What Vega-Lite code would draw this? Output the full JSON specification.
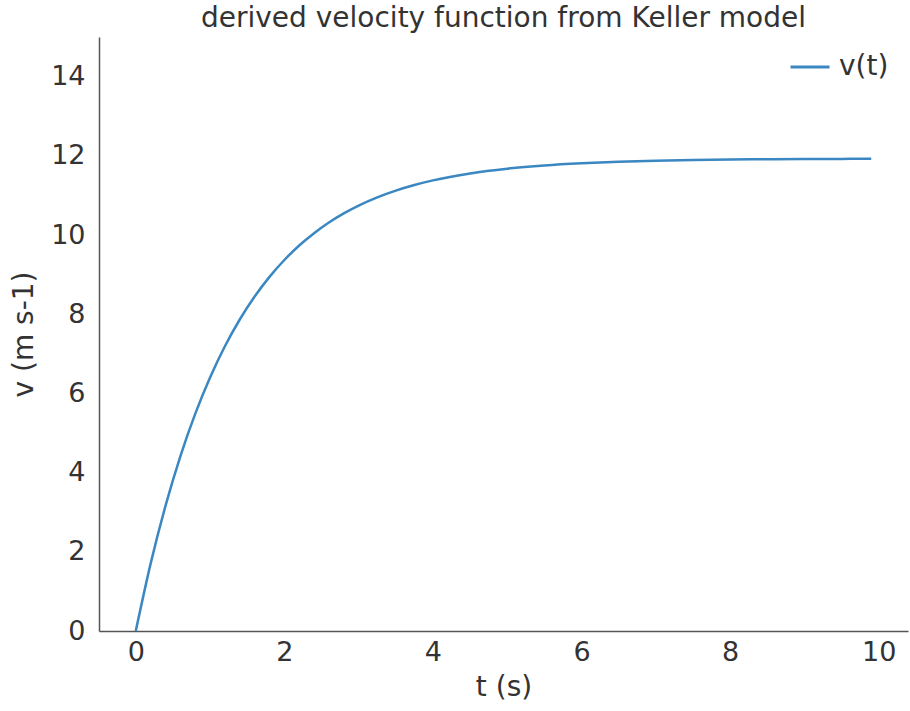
{
  "$schema": "https://vega.github.io/schema/vega-lite/v6.json",
  "autosize": {"type": "none"},
  "padding": {"left": 99, "top": 37, "right": 2, "bottom": 80},
  "width": 809,
  "height": 594,
  "title": {"text": "derived velocity function from Keller model", "font": "DejaVu Sans", "fontSize": 28, "fontWeight": "normal", "color": "#333333", "offset": 4},
  "config": {
    "view": {"stroke": null},
    "font": "DejaVu Sans",
    "axis": {"domainColor": "#555555", "domainWidth": 1.5, "ticks": false, "grid": false, "labelFont": "DejaVu Sans", "labelFontSize": 27, "labelColor": "#333333", "titleFont": "DejaVu Sans", "titleFontSize": 28, "titleFontWeight": "normal", "titleColor": "#333333"}
  },
  "data": {"values": [
    {"t": 0, "v": 0, "s": "v(t)"},
    {"t": 0.2, "v": 1.701, "s": "v(t)"},
    {"t": 0.4, "v": 3.160, "s": "v(t)"},
    {"t": 0.6, "v": 4.411, "s": "v(t)"},
    {"t": 0.8, "v": 5.483, "s": "v(t)"},
    {"t": 1.0, "v": 6.402, "s": "v(t)"},
    {"t": 1.2, "v": 7.190, "s": "v(t)"},
    {"t": 1.4, "v": 7.866, "s": "v(t)"},
    {"t": 1.6, "v": 8.445, "s": "v(t)"},
    {"t": 1.8, "v": 8.943, "s": "v(t)"},
    {"t": 2.0, "v": 9.369, "s": "v(t)"},
    {"t": 2.2, "v": 9.734, "s": "v(t)"},
    {"t": 2.4, "v": 10.046, "s": "v(t)"},
    {"t": 2.6, "v": 10.316, "s": "v(t)"},
    {"t": 2.8, "v": 10.546, "s": "v(t)"},
    {"t": 3.0, "v": 10.743, "s": "v(t)"},
    {"t": 3.25, "v": 10.951, "s": "v(t)"},
    {"t": 3.5, "v": 11.122, "s": "v(t)"},
    {"t": 3.75, "v": 11.263, "s": "v(t)"},
    {"t": 4.0, "v": 11.380, "s": "v(t)"},
    {"t": 4.5, "v": 11.555, "s": "v(t)"},
    {"t": 5.0, "v": 11.675, "s": "v(t)"},
    {"t": 5.5, "v": 11.757, "s": "v(t)"},
    {"t": 6.0, "v": 11.812, "s": "v(t)"},
    {"t": 6.5, "v": 11.850, "s": "v(t)"},
    {"t": 7.0, "v": 11.875, "s": "v(t)"},
    {"t": 7.5, "v": 11.893, "s": "v(t)"},
    {"t": 8.0, "v": 11.905, "s": "v(t)"},
    {"t": 8.5, "v": 11.913, "s": "v(t)"},
    {"t": 9.0, "v": 11.918, "s": "v(t)"},
    {"t": 9.5, "v": 11.922, "s": "v(t)"},
    {"t": 9.9, "v": 11.924, "s": "v(t)"}
  ]},
  "mark": {"type": "line", "interpolate": "monotone", "strokeWidth": 2.5},
  "encoding": {
    "x": {"field": "t", "type": "quantitative", "title": "t (s)", "scale": {"domain": [-0.495, 10.395], "nice": false, "zero": false}, "axis": {"values": [0, 2, 4, 6, 8, 10], "labelPadding": 8, "titlePadding": 8}},
    "y": {"field": "v", "type": "quantitative", "title": "v (m s-1)", "scale": {"domain": [0, 15], "nice": false}, "axis": {"values": [0, 2, 4, 6, 8, 10, 12, 14], "labelPadding": 14, "titlePadding": 12}},
    "color": {"field": "s", "type": "nominal", "scale": {"range": ["#3a87c2"]}, "legend": {"title": null, "orient": "none", "legendX": 690, "legendY": 9, "symbolType": "stroke", "symbolSize": 1521, "symbolStrokeWidth": 3, "labelOffset": 8, "labelFontSize": 28, "labelColor": "#333333", "labelFont": "DejaVu Sans", "direction": "vertical"}}
  }
}
